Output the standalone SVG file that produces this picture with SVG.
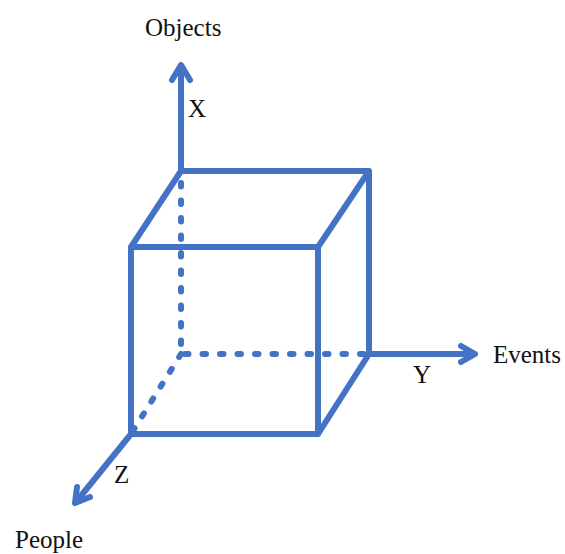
<svg xmlns="http://www.w3.org/2000/svg" width="565" height="554" viewBox="0 0 565 554">
<style>
.ln{fill:none;stroke:#4472C4;stroke-width:6;stroke-linecap:round;stroke-linejoin:round}
.dash{stroke-dasharray:3.5 14;stroke-linecap:round}
.t{font-family:"Liberation Serif","Times New Roman",serif;font-size:25px;fill:#111}
</style>
<rect width="565" height="554" fill="#fff"/>
<g id="connectors">
<g id="axis-x">
<line class="ln" x1="181" y1="171" x2="181" y2="66"/>
<polyline class="ln" points="172,80 181,65 190,80"/>
</g>
<g id="axis-y">
<line class="ln" x1="369" y1="354" x2="474" y2="354"/>
<polyline class="ln" points="461,346 475,354 461,362"/>
</g>
<g id="axis-z">
<line class="ln" x1="131" y1="434" x2="76" y2="502"/>
<polyline class="ln" points="77,487 75,503 90,497"/>
</g>
</g>
<g id="cube">
<path class="ln dash" d="M181,183 V354 H369 M181,354 L131,434"/>
<path class="ln" d="M131,247 H318 V434 H131 Z M131,247 L181,171 H369 L318,247 M369,171 V354 L318,434"/>
</g>
<g id="labels">
<text class="t" x="145" y="36">Objects</text>
<text class="t" x="188" y="117">X</text>
<text class="t" x="493" y="363">Events</text>
<text class="t" x="413" y="383">Y</text>
<text class="t" x="114" y="483">Z</text>
<text class="t" x="15" y="548">People</text>
</g>
</svg>
